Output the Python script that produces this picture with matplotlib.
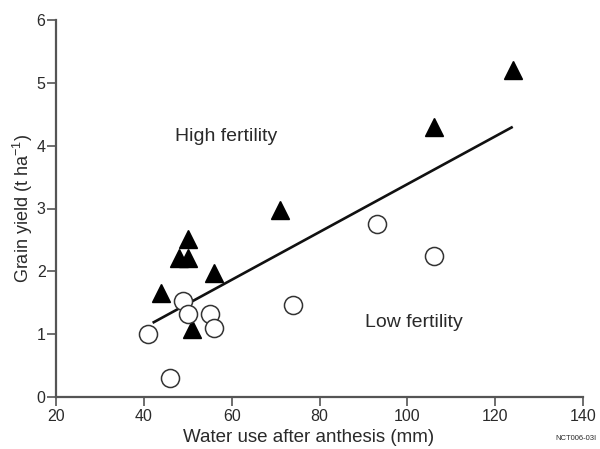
import matplotlib
matplotlib.use("Agg")
import matplotlib.pyplot as plt

plt.rcParams['font.family'] = ['Liberation Sans', 'DejaVu Sans']
plt.rcParams['mathtext.fontset'] = 'custom'
plt.rcParams['mathtext.rm'] = 'Liberation Sans'
plt.rcParams['mathtext.it'] = 'Liberation Sans:italic'
plt.rcParams['mathtext.default'] = 'regular'

# High fertility (filled triangles)
high_x = [44, 48, 50, 50, 56, 51, 71, 106, 124]
high_y = [1.65, 2.22, 2.22, 2.52, 1.97, 1.08, 2.97, 4.3, 5.2]
# Low fertility (open circles)
low_x = [41, 46, 49, 50, 55, 56, 74, 93, 106]
low_y = [1.0, 0.3, 1.52, 1.32, 1.32, 1.1, 1.46, 2.75, 2.25]
# Regression line endpoints
line_x = [42, 124]
line_y = [1.18, 4.3]

x_ticks = [20, 40, 60, 80, 100, 120, 140]
y_ticks = [0, 1, 2, 3, 4, 5, 6]

fig = plt.figure(figsize=(6.0, 4.49), dpi=100)
ax = fig.add_axes([56/600, 1-397/449, (583-56)/600, (397-20)/449])

spine_c = '#555555'
text_c = '#2a2a2a'

ax.plot(line_x, line_y, color='#111111', lw=1.9, solid_capstyle='butt', zorder=2)
ax.plot(high_x, high_y, linestyle='none', marker='^', markersize=12.5,
        color='black', zorder=3, clip_on=False)
ax.plot(low_x, low_y, linestyle='none', marker='o', markersize=13,
        markerfacecolor='white', markeredgecolor='#333333', markeredgewidth=1.1,
        zorder=4, clip_on=False)

ax.set_xlim(20, 140)
ax.set_ylim(0, 6)
ax.set_xticks(x_ticks)
ax.set_yticks(y_ticks)
for s in ['top', 'right']:
    ax.spines[s].set_visible(False)
for s in ['left', 'bottom']:
    ax.spines[s].set_color(spine_c)
    ax.spines[s].set_linewidth(1.6)
ax.tick_params(axis='both', direction='out', length=6.5, width=1.2,
               color=spine_c, labelcolor=text_c, labelsize=11.5)
ax.tick_params(axis='y', pad=1)
ax.tick_params(axis='x', pad=2)

ax.set_xlabel('Water use after anthesis (mm)', fontsize=13.5, color=text_c,
              va='center', ha='center')
ax.xaxis.set_label_coords(0.48, -40/377)
ax.set_ylabel('Grain yield (t ha$^{-1}$)', fontsize=13, color=text_c,
              va='center', ha='center')
ax.yaxis.set_label_coords(-33/527, 0.5)

ax.text(47, 4.14, 'High fertility', fontsize=14, color=text_c, ha='left', va='center')
ax.text(90.4, 1.18, 'Low fertility', fontsize=14, color=text_c, ha='left', va='center')

fig.text(597/600, 1-438/449, 'NCT006-03I', fontsize=5.5, color=text_c,
         ha='right', va='center')

fig.savefig('out.png', dpi=100)
